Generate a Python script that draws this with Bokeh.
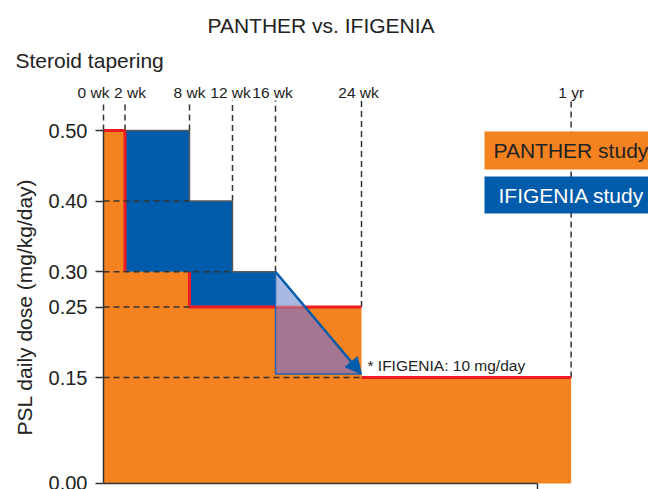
import numpy as np
from bokeh.plotting import figure
from bokeh.models import (FixedTicker, PrintfTickFormatter, Label, BoxAnnotation,
                          Arrow, NormalHead)
from bokeh.core.properties import value
from bokeh.embed import file_html
from bokeh.resources import INLINE

# ---------------- data ----------------
week_labels = ["0 wk", "2 wk", "8 wk", "12 wk", "16 wk", "24 wk", "1 yr"]
week_pos = [0, 2, 8, 12, 16, 24, 43.5]           # schematic time axis (weeks; 1 yr drawn compressed)
week_dash_floor = [0.50, 0.50, 0.50, 0.40, 0.30, 0.25, 0.15]

panther_start = [0, 2, 8, 24]
panther_end = [2, 8, 24, 43.5]
panther_dose = [0.50, 0.30, 0.25, 0.15]

ifigenia_start = [0, 2, 8, 12]
ifigenia_end = [2, 8, 12, 16]
ifigenia_dose = [0.50, 0.50, 0.40, 0.30]
ifigenia_taper_x = [16, 24]
ifigenia_taper_y = [0.30, 0.155]                 # taper to 10 mg/day

guide_levels = [0.40, 0.30, 0.25, 0.15]
guide_ends = [8, 12, 8, 24]

y_ticks = [0.00, 0.15, 0.25, 0.30, 0.40, 0.50]
x_axis_end = 40.4

# ---------------- style / layout ----------------
FONT = "Liberation Sans"
ORANGE = "#F48221"
BLUE = "#005BAA"
RED = "#ED1C24"
GRAY = "#5A5A5A"
DASH = "#333333"
LIGHTBLUE = "#AAB9E1"
PURPLE = "#A57691"
TXT = "#222222"

W, H = 648, 489
X0_PX = 103          # pixel column of week 0 (y axis)
Y0_PX = 483          # pixel row of dose 0 (x axis)
PX_PER_UNIT = (Y0_PX - 130) / 0.5     # 0.50 sits at row 130
PX_PER_WEEK = 10.75
X_START = -X0_PX / PX_PER_WEEK
X_END = X_START + W / PX_PER_WEEK
Y_START = -(H - Y0_PX) / PX_PER_UNIT
Y_END = Y_START + H / PX_PER_UNIT
DASH_TOP = 0.5 + 30 / PX_PER_UNIT
LABEL_Y = 0.5 + 38 / PX_PER_UNIT

p = figure(width=W, height=H, x_range=(X_START, X_END), y_range=(Y_START, Y_END),
           output_backend="svg", toolbar_location=None,
           min_border_left=0, min_border_right=0, min_border_top=0, min_border_bottom=0)
p.outline_line_color = None
p.xgrid.visible = False
p.ygrid.visible = False
p.background_fill_color = "white"

# axes (fixed at the data origin so that the frame spans the whole canvas)
ya = p.yaxis[0]
ya.fixed_location = 0
ya.ticker = FixedTicker(ticks=y_ticks)
ya.formatter = PrintfTickFormatter(format="%.2f")
ya.bounds = (0, 0.5)
ya.major_label_text_font = FONT
ya.major_label_text_font_size = "20px"
ya.major_label_text_color = TXT
ya.major_tick_out = 8
ya.major_tick_in = 0
ya.minor_tick_line_color = None
ya.axis_line_width = 1.5
ya.axis_line_color = DASH
ya.major_tick_line_width = 1.5
ya.major_tick_line_color = DASH
ya.major_label_standoff = 8

xa = p.xaxis[0]
xa.fixed_location = 0
xa.ticker = FixedTicker(ticks=[x_axis_end])
xa.bounds = (0, x_axis_end)
xa.major_label_overrides = {x_axis_end: ""}
xa.major_label_text_color = None
xa.major_tick_out = 7
xa.major_tick_in = 0
xa.minor_tick_line_color = None
xa.axis_line_width = 1.5
xa.axis_line_color = DASH
xa.major_tick_line_width = 1.5
xa.major_tick_line_color = DASH

# vertical dashed week lines
p.segment(x0=week_pos, y0=week_dash_floor, x1=week_pos, y1=[DASH_TOP] * len(week_pos),
          line_color=DASH, line_width=1.5, line_dash="6 4")

# PANTHER (orange) as one step polygon
ox, oy = [panther_start[0]], [0.0]
for s, e, d in zip(panther_start, panther_end, panther_dose):
    ox += [s, e]
    oy += [d, d]
ox.append(panther_end[-1]); oy.append(0.0)
p.patch(ox, oy, fill_color=ORANGE, line_color=None)

# IFIGENIA excess over PANTHER (blue) as one polygon
def panther_at(x):
    for s, e, d in zip(panther_start, panther_end, panther_dose):
        if s <= x < e:
            return d
    return 0.0

segs = []
for s, e, d in zip(ifigenia_start, ifigenia_end, ifigenia_dose):
    base = panther_at((s + e) / 2)
    if d > base:
        segs.append((s, e, base, d))
bx, by = [], []
for s, e, b, t in segs:
    bx += [s, e]; by += [t, t]
for s, e, b, t in reversed(segs):
    bx += [e, s]; by += [b, b]
p.patch(bx, by, fill_color=BLUE, line_color=None)

# red PANTHER outline
ps, pe, pd = panther_start, panther_end, panther_dose
red_xs = [[ps[0], pe[0], pe[0]], [ps[2], ps[2], pe[2]], [ps[3], pe[3]]]
red_ys = [[pd[0], pd[0], pd[1]], [pd[1], pd[2], pd[2]], [pd[3], pd[3]]]
p.multi_line(xs=red_xs, ys=red_ys, line_color=RED, line_width=3)

# taper triangle (part over white, part over PANTHER area)
tx0, tx1 = ifigenia_taper_x
ty0, ty1 = ifigenia_taper_y
lvl = panther_at(tx0 + 1e-6)
xc = tx0 + (ty0 - lvl) / (ty0 - ty1) * (tx1 - tx0)
p.patch(x=[tx0, xc, tx0], y=[ty0, lvl, lvl], fill_color=LIGHTBLUE, line_color=None)
p.patch(x=[tx0, xc, tx1, tx0], y=[lvl, lvl, ty1, ty1], fill_color=PURPLE, line_color=None)
p.line([tx0, xc], [lvl, lvl], line_color=RED, line_alpha=0.45, line_width=3)

# gray outline of IFIGENIA steps
gx, gy = [], []
for i in range(1, len(ifigenia_start)):
    gx += [ifigenia_start[i], ifigenia_end[i]]
    gy += [ifigenia_dose[i]] * 2
p.line(gx, gy, line_color=GRAY, line_width=1.5)

# horizontal dashed guides
p.segment(x0=[0] * len(guide_levels), y0=guide_levels, x1=guide_ends, y1=guide_levels,
          line_color=DASH, line_width=1.5, line_dash="6 4")

# triangle outline + arrow
p.line([tx0, tx0, tx1], [ty0, ty1, ty1], line_color="#2462B2", line_width=1.5)
p.add_layout(Arrow(end=NormalHead(size=16, fill_color=BLUE, line_color=BLUE),
                   x_start=tx0, y_start=ty0, x_end=tx1, y_end=ty1,
                   line_color=BLUE, line_width=2.5))

# week labels
p.text(x=week_pos, y=[LABEL_Y] * len(week_pos), text=week_labels,
       x_offset=[-10, 5, 0, -2, -3, -3, 0],
       text_font=value(FONT), text_font_size="15.5px", text_color=TXT,
       text_align="center", text_baseline="middle")

# note
p.text(x=[tx1], y=[ty1], text=["* IFIGENIA: 10 mg/day"], x_offset=6, y_offset=-9,
       text_font=value(FONT), text_font_size="15.5px", text_color=TXT,
       text_align="left", text_baseline="middle")

# legend boxes (screen units: x from left, y up from bottom)
def box(top_px, bottom_px, color):
    return BoxAnnotation(left=484, right=720, bottom=H - bottom_px, top=H - top_px,
                         left_units="screen", right_units="screen",
                         bottom_units="screen", top_units="screen",
                         fill_color=color, fill_alpha=1, line_color=None, level="annotation")

p.add_layout(box(131, 169, ORANGE))
p.add_layout(box(176, 213, BLUE))

def label(x, y_px, text, size="21px", color=TXT, align="left", angle=0.0):
    return Label(x=x, y=H - y_px, x_units="screen", y_units="screen", text=text,
                 angle=angle, text_font=FONT, text_font_size=size, text_color=color,
                 text_align=align, text_baseline="middle")

p.add_layout(label(493, 150, "PANTHER study"))
p.add_layout(label(498, 194.5, "IFIGENIA study", color="white"))

# titles and y-axis label
p.add_layout(label(320.5, 25, "PANTHER vs. IFIGENIA", align="center"))
p.add_layout(label(15, 60, "Steroid tapering"))
p.add_layout(label(24, 306.5, "PSL daily dose (mg/kg/day)", align="center", angle=np.pi / 2))

open("out.html", "w").write(file_html(p, INLINE))
